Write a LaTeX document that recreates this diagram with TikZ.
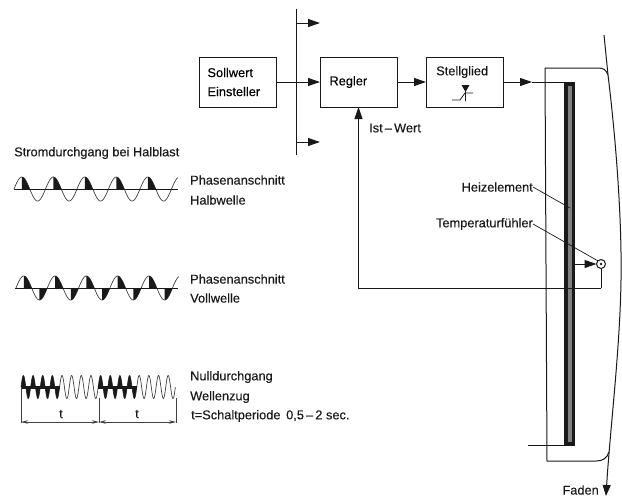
\documentclass[tikz,border=0pt]{standalone}
\usepackage{fontspec}
\setmainfont[FakeBold=0.25]{Liberation Sans}
\usetikzlibrary{arrows.meta,positioning,calc}
\tikzset{block/.style={draw=black!90,line width=1pt,outer sep=0pt,minimum width=77pt,minimum height=50pt,align=left,font=\lbl},edge/.style={-{Triangle[length=12pt,width=8pt]},line width=1pt,draw=black!90},wire/.style={line width=1pt,draw=black!90},wave/.style={line width=.7pt,draw=black!75},label/.style={anchor=west,inner sep=0pt,text=black!90,font=\lbl},leader/.style={line width=.7pt,draw=black!90}}
\newcommand{\lbl}{\fontsize{12.8}{15}\selectfont}
\begin{document}
\begin{tikzpicture}[x=1pt,y=-1pt]
\useasboundingbox (0,0) rectangle (622,496);
\node[block,text width=60pt] (soll) at (237.5,82) {Sollwert\\[4pt]Einsteller};
\node[block,right=44pt of soll,text width=58pt] (regler) {Regler};
\node[block,right=29pt of regler] (stell) {};
\node[label] (stelltext) at (436,72) {Stellglied};
\coordinate (bustop) at (296,9);
\coordinate (busbot) at (296,155);
\coordinate (outtop) at (320,23);
\coordinate (outbot) at (320,142);
\draw[wire] (bustop)--(busbot);
\draw[edge] (bustop|-outtop)--(outtop);
\draw[edge] (busbot|-outbot)--(outbot);
\draw[edge] (soll)--(regler);
\draw[edge] (regler)--(stell);
% thyristor symbol
\draw[wire,line width=.8pt] (452,100)--(460,100)--(465,93)--(473,93) (465.5,90)--(465.5,101);
\fill[black!90] (461.5,85)--(469.5,85)--(465.5,92)--cycle;
% heater and frame
\node[draw=black!90,fill=black!90,minimum width=10pt,minimum height=363pt,inner sep=0pt,outer sep=0pt] (heater) at (569,263.5) {};
\fill[black!50] (568,86) rectangle (572,442);
\coordinate (mid) at (532,82);
\draw[edge] (stell.east|-mid)--(mid);
\draw[wire] (mid)--(heater.north west);
\coordinate (wireend) at (528,445);
\draw[wire] (wireend)--(heater.south west);
\coordinate (threadtop) at (604,35);
\coordinate (threadend) at (606,496);
\draw[wire,-{Triangle[length=11pt,width=8pt]}] (threadtop)--(608,75)..controls (616,140) and (622,220)..(621,280)..controls (620,350) and (610,430)..(threadend);
\draw[wire] (608,75)..controls (606,70) and (604,68)..(598,68)--(545,68)--(547,461)--(596,461)..controls (603,461) and (607,458)..(609,452);
% sensor and feedback
\node[draw=black!90,circle,line width=1pt,minimum size=9pt,inner sep=0pt,outer sep=0pt] (sensor) at (601,264) {};
\fill[black!90] (sensor) circle (1.3pt);
\coordinate (fb) at (601,288);
\draw[edge] (heater.east|-sensor)--(sensor);
\draw[wire] (sensor)--(fb);
\draw[edge] (fb)--(regler.south|-fb)--(regler.south);
\node[label] (ist) at (369,128) {Ist\,–\,Wert};
\node[label,anchor=east] (heiz) at (533,187) {Heizelement};
\node[label,anchor=east] (temp) at (533,224) {Temperaturfühler};
\draw[leader] (heiz.east)--(570,208);
\draw[leader] (temp.east)--(sensor.north west);
\node[label,anchor=east] (faden) at (599,490) {Faden};
% waveforms
\node[label] (strom) at (14,153) {Stromdurchgang bei Halblast};
\draw[wave] plot[domain=0:5.2,samples=220] ({14+31.5*\x},{189-12*sin(360*\x)});
\draw[wire] (14,189)--(178,189);
\foreach \k [evaluate=\k as \a using \k+.25,evaluate=\k as \b using \k+.5] in {0,...,4}
  \fill[black!90] ({14+31.5*\a},189)--plot[domain=\a:\b,samples=12] ({14+31.5*\x},{189-12*sin(360*\x)})--cycle;
\node[label] (an1) at (190,180) {Phasenanschnitt};
\node[label] (halb) at (190,200) {Halbwelle};
\draw[wave] plot[domain=0:5.2,samples=220] ({16+31.3*\x},{288-12*sin(360*\x)});
\draw[wire] (15,288)--(178,288);
\foreach \k [evaluate=\k as \a using \k+.25,evaluate=\k as \b using \k+.5,evaluate=\k as \c using \k+.75,evaluate=\k as \d using \k+1] in {0,...,4}{
  \fill[black!90] ({16+31.3*\a},288)--plot[domain=\a:\b,samples=12] ({16+31.3*\x},{288-12*sin(360*\x)})--cycle;
  \fill[black!90] ({16+31.3*\c},288)--plot[domain=\c:\d,samples=12] ({16+31.3*\x},{288-12*sin(360*\x)})--cycle;
}
\node[label] (an2) at (190,279) {Phasenanschnitt};
\node[label] (voll) at (190,298) {Vollwelle};
\draw[wave] plot[domain=0:16,samples=500] ({21+9.65*\x},{387-11.5*sin(360*\x)});
\foreach \s in {21,98.2}{
  \fill[black!90] (\s,387)--plot[domain=0:4,samples=120] ({\s+9.65*\x},{387-11.5*sin(360*\x)})--cycle;
  \draw[line width=3pt,draw=black!90] (\s,387)--({\s+38.6},387);
}
\node[label] (null) at (190,377) {Nulldurchgang};
\node[label] (zug) at (190,397) {Wellenzug};
\node[label] (schalt) at (191,416) {t=Schaltperiode\, 0,5\,–\,2 sec.};
\coordinate (ta) at (21,423);
\coordinate (tb) at (99,423);
\coordinate (tc) at (176,423);
\draw[wave] (21,387)--(ta) (99,398)--(tb) (176,398)--(tc);
\draw[wave,{Stealth[length=7pt,width=3.5pt]}-{Stealth[length=7pt,width=3.5pt]}] (ta|-0,422)--(tb|-0,422);
\draw[wave,{Stealth[length=7pt,width=3.5pt]}-{Stealth[length=7pt,width=3.5pt]}] (tb|-0,422)--(tc|-0,422);
\node[label,anchor=center] (t1) at (61,414) {t};
\node[label,anchor=center] (t2) at (137,414) {t};
\end{tikzpicture}
\end{document}
